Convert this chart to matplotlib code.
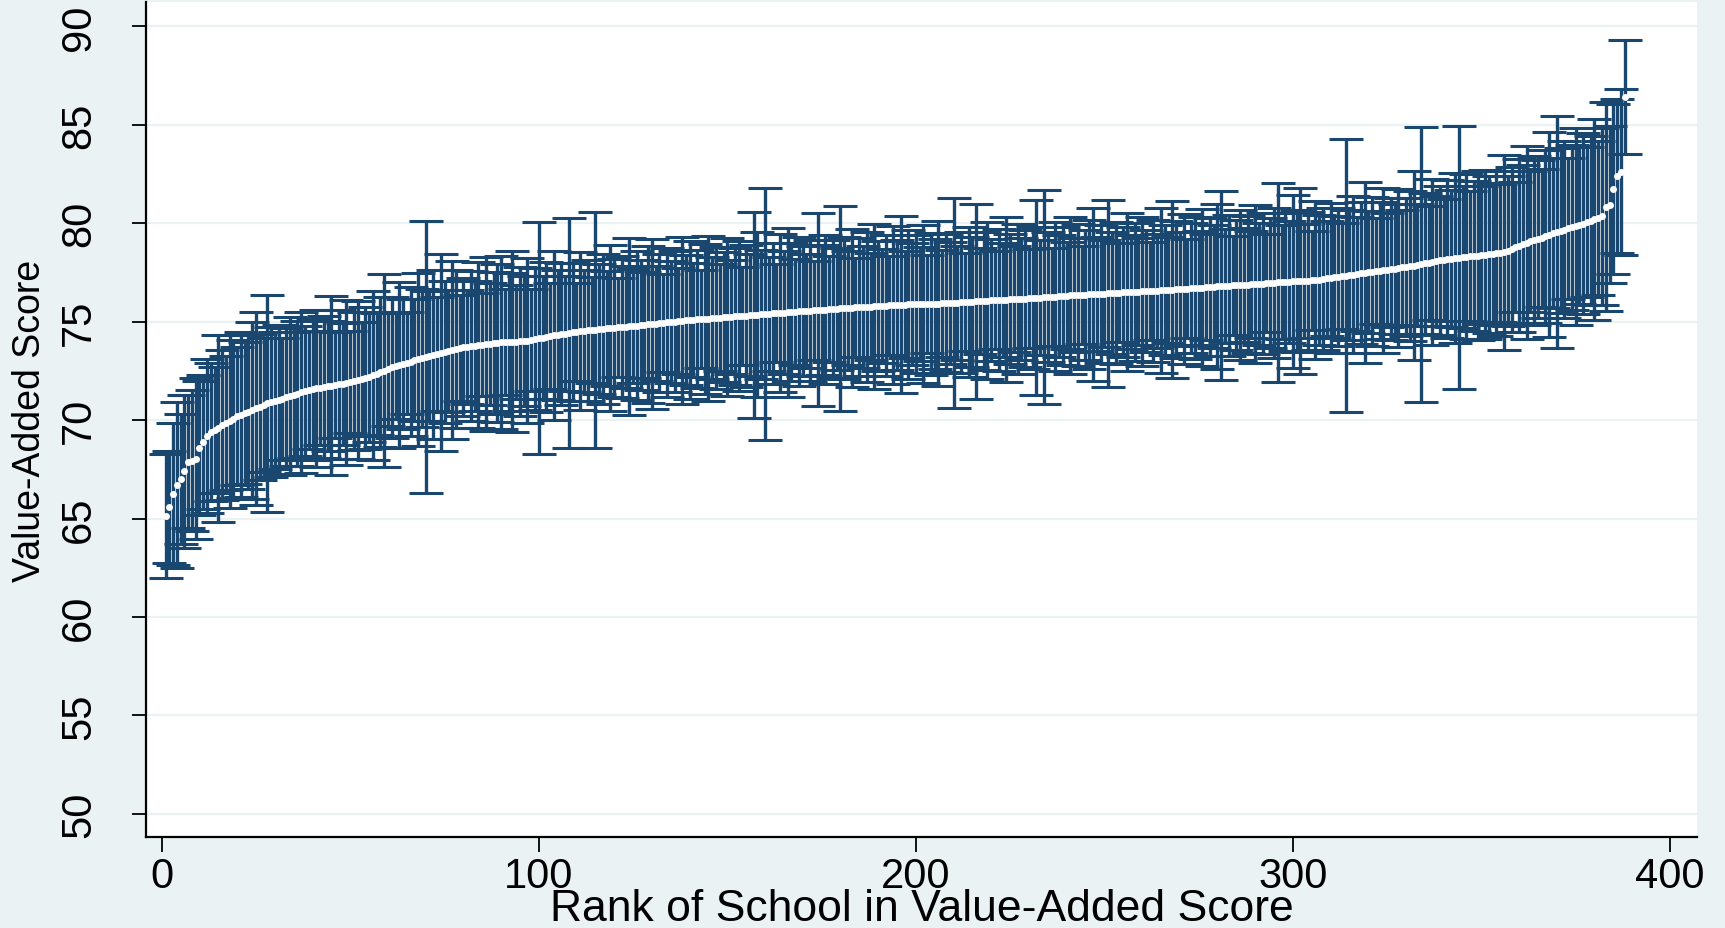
import numpy as np
import matplotlib
matplotlib.use("Agg")
import matplotlib.pyplot as plt

# ------------------------------------------------------------
# Dados: escolas ordenadas pelo valor agregado (estimativa + meia-largura do IC)

rank_max = 388

va_score = [
    65.15, 65.60, 66.25, 66.70, 67.00, 67.40, 67.90, 67.95, 68.05, 68.60,
    68.90, 69.20, 69.40, 69.50, 69.60, 69.75, 69.85, 69.95, 70.05, 70.20,
    70.28, 70.35, 70.42, 70.50, 70.60, 70.68, 70.76, 70.85, 70.92, 71.00,
    71.05, 71.10, 71.16, 71.22, 71.28, 71.35, 71.42, 71.50, 71.54, 71.58,
    71.62, 71.65, 71.68, 71.72, 71.75, 71.78, 71.82, 71.86, 71.90, 71.95,
    71.99, 72.04, 72.09, 72.15, 72.20, 72.28, 72.36, 72.44, 72.52, 72.60,
    72.68, 72.75, 72.80, 72.86, 72.92, 72.98, 73.04, 73.10, 73.15, 73.20,
    73.26, 73.32, 73.38, 73.43, 73.48, 73.53, 73.57, 73.61, 73.65, 73.70,
    73.73, 73.76, 73.79, 73.82, 73.84, 73.87, 73.89, 73.91, 73.93, 73.95,
    73.96, 73.97, 73.98, 73.99, 74.00, 74.02, 74.04, 74.08, 74.12, 74.16,
    74.20, 74.24, 74.28, 74.31, 74.34, 74.37, 74.40, 74.43, 74.46, 74.49,
    74.52, 74.54, 74.56, 74.58, 74.60, 74.62, 74.64, 74.66, 74.68, 74.70,
    74.71, 74.73, 74.75, 74.77, 74.79, 74.81, 74.83, 74.85, 74.87, 74.89,
    74.91, 74.93, 74.95, 74.97, 74.99, 75.01, 75.03, 75.05, 75.07, 75.09,
    75.10, 75.12, 75.13, 75.15, 75.16, 75.18, 75.19, 75.21, 75.22, 75.24,
    75.25, 75.27, 75.28, 75.30, 75.31, 75.33, 75.34, 75.36, 75.37, 75.39,
    75.40, 75.42, 75.44, 75.45, 75.47, 75.48, 75.50, 75.51, 75.53, 75.54,
    75.55, 75.57, 75.58, 75.60, 75.61, 75.62, 75.64, 75.65, 75.66, 75.68,
    75.69, 75.70, 75.71, 75.73, 75.74, 75.75, 75.76, 75.77, 75.78, 75.80,
    75.81, 75.82, 75.83, 75.84, 75.85, 75.86, 75.87, 75.88, 75.88, 75.89,
    75.89, 75.90, 75.90, 75.91, 75.91, 75.92, 75.93, 75.94, 75.95, 75.96,
    75.97, 75.98, 75.99, 76.01, 76.02, 76.03, 76.04, 76.06, 76.07, 76.09,
    76.10, 76.11, 76.12, 76.13, 76.14, 76.15, 76.16, 76.17, 76.18, 76.19,
    76.21, 76.22, 76.23, 76.25, 76.26, 76.27, 76.28, 76.30, 76.31, 76.33,
    76.34, 76.35, 76.36, 76.37, 76.38, 76.39, 76.40, 76.41, 76.42, 76.43,
    76.45, 76.46, 76.47, 76.48, 76.49, 76.50, 76.51, 76.52, 76.53, 76.54,
    76.55, 76.56, 76.57, 76.58, 76.59, 76.60, 76.62, 76.63, 76.64, 76.66,
    76.67, 76.68, 76.70, 76.71, 76.73, 76.74, 76.76, 76.77, 76.79, 76.80,
    76.82, 76.83, 76.84, 76.85, 76.86, 76.87, 76.88, 76.89, 76.90, 76.92,
    76.93, 76.94, 76.96, 76.97, 76.98, 77.00, 77.01, 77.03, 77.04, 77.05,
    77.06, 77.07, 77.08, 77.09, 77.10, 77.12, 77.14, 77.17, 77.20, 77.23,
    77.26, 77.28, 77.31, 77.34, 77.37, 77.40, 77.43, 77.46, 77.49, 77.52,
    77.55, 77.57, 77.60, 77.62, 77.65, 77.68, 77.70, 77.73, 77.76, 77.79,
    77.82, 77.85, 77.88, 77.92, 77.96, 78.00, 78.04, 78.08, 78.12, 78.16,
    78.19, 78.21, 78.24, 78.26, 78.28, 78.30, 78.32, 78.34, 78.36, 78.38,
    78.40, 78.42, 78.44, 78.47, 78.50, 78.53, 78.60, 78.68, 78.78, 78.87,
    78.95, 79.02, 79.08, 79.14, 79.20, 79.27, 79.35, 79.43, 79.50, 79.56,
    79.62, 79.68, 79.74, 79.80, 79.86, 79.92, 79.99, 80.06, 80.13, 80.20,
    80.28, 80.36, 80.85, 80.95, 81.75, 82.40, 82.60, 86.40,
]

ci_half = [
    3.15, 2.85, 3.60, 4.20, 3.30, 3.90, 3.40, 3.60, 4.10, 3.40,
    3.40, 3.90, 3.50, 3.20, 4.75, 3.80, 3.40, 4.40, 4.00, 3.50,
    4.20, 3.60, 3.90, 4.50, 4.90, 3.70, 3.40, 5.50, 3.80, 3.50,
    3.80, 3.10, 3.50, 4.00, 3.20, 3.70, 4.10, 3.30, 3.00, 3.60,
    4.00, 2.90, 3.60, 3.30, 4.55, 2.70, 3.80, 3.10, 4.20, 2.60,
    3.50, 4.00, 2.90, 3.60, 3.30, 4.30, 3.10, 3.80, 4.90, 2.90,
    3.60, 2.70, 4.20, 3.30, 2.60, 3.80, 3.10, 4.40, 3.50, 6.90,
    3.30, 4.30, 2.90, 5.00, 3.60, 3.10, 4.50, 4.00, 2.70, 3.50,
    2.90, 3.80, 3.30, 4.20, 2.60, 4.40, 3.10, 3.60, 4.00, 4.40,
    2.70, 3.50, 4.60, 2.90, 3.80, 3.30, 4.20, 2.60, 3.60, 5.90,
    3.10, 3.80, 2.70, 4.30, 3.30, 3.60, 2.90, 5.85, 3.50, 2.50,
    4.00, 3.10, 3.60, 2.70, 6.00, 3.30, 3.80, 2.90, 4.20, 3.50,
    2.50, 3.60, 3.10, 4.50, 2.90, 3.80, 3.30, 2.70, 4.00, 4.30,
    2.90, 3.50, 2.50, 3.80, 3.10, 3.60, 2.70, 4.25, 3.30, 4.00,
    2.90, 3.50, 2.50, 3.80, 4.20, 3.10, 3.60, 2.70, 3.30, 4.00,
    2.90, 3.50, 3.80, 2.50, 3.60, 3.10, 5.25, 4.20, 3.30, 6.40,
    2.90, 3.60, 2.50, 4.00, 3.10, 4.30, 3.50, 2.70, 3.80, 3.30,
    2.90, 3.60, 2.50, 4.90, 3.30, 3.80, 2.70, 3.50, 3.10, 5.20,
    3.60, 2.90, 4.00, 2.50, 3.50, 3.10, 3.80, 2.70, 4.20, 3.30,
    2.90, 3.60, 2.50, 4.00, 3.30, 4.50, 2.70, 3.80, 3.10, 3.50,
    2.90, 4.00, 2.50, 3.60, 3.30, 4.20, 2.70, 3.50, 3.10, 5.35,
    2.90, 3.60, 2.50, 3.80, 3.30, 4.95, 2.70, 3.50, 4.00, 3.10,
    2.50, 3.60, 2.90, 4.20, 3.30, 2.70, 3.80, 3.10, 3.50, 2.50,
    3.60, 4.95, 2.90, 5.45, 3.30, 2.50, 3.80, 3.10, 3.50, 2.70,
    4.00, 2.90, 3.60, 2.50, 3.30, 3.80, 4.40, 2.90, 3.50, 2.70,
    4.75, 3.10, 3.60, 2.50, 3.30, 4.00, 2.90, 3.50, 2.70, 3.80,
    3.10, 2.50, 3.60, 2.90, 4.20, 3.30, 2.70, 4.50, 3.50, 2.90,
    3.80, 2.50, 3.30, 3.60, 2.90, 4.00, 2.70, 3.50, 3.10, 4.20,
    4.80, 2.90, 3.60, 2.50, 3.30, 3.80, 2.90, 3.50, 2.70, 4.00,
    3.10, 3.60, 2.50, 3.30, 3.80, 5.05, 2.90, 3.50, 3.10, 4.40,
    3.60, 4.70, 2.90, 3.50, 2.50, 4.00, 3.30, 3.60, 2.90, 3.80,
    3.10, 3.50, 2.70, 6.93, 3.30, 4.00, 2.90, 3.60, 4.60, 3.10,
    3.80, 2.70, 3.50, 4.20, 2.90, 3.60, 3.30, 4.00, 2.90, 3.50,
    3.80, 4.80, 3.10, 6.98, 3.60, 2.90, 4.20, 3.30, 3.80, 3.10,
    4.00, 3.50, 4.30, 6.70, 3.60, 4.20, 3.30, 3.80, 4.30, 3.50,
    4.30, 4.00, 3.60, 4.20, 3.50, 4.95, 3.80, 4.20, 3.30, 4.40,
    4.00, 4.90, 3.60, 4.30, 4.00, 3.50, 4.40, 5.20, 3.80, 5.90,
    4.20, 4.50, 3.60, 4.20, 5.00, 4.00, 4.60, 3.80, 4.30, 5.10,
    3.90, 4.50, 5.30, 4.00, 4.30, 3.90, 4.20, 2.90,
]

x_ticks = [0, 100, 200, 300, 400]
y_ticks = [50, 55, 60, 65, 70, 75, 80, 85, 90]

ranks = np.arange(1, rank_max + 1)

# ------------------------------------------------------------
# Estilo (parecido com o esquema s2color do Stata)

COR_FUNDO = "#eaf2f3"
COR_BARRA = "#1a476f"

plt.rcParams["font.family"] = ["Liberation Sans", "DejaVu Sans"]

fig = plt.figure(figsize=(17.25, 9.29), dpi=100, facecolor=COR_FUNDO)
ax = fig.add_axes([0.0848, 0.098, 0.8990, 0.8985])
ax.set_facecolor("white")

# Grade horizontal
for y in y_ticks:
    ax.axhline(y, color=COR_FUNDO, linewidth=1.6, zorder=0)

# Intervalos de confiança
ax.errorbar(ranks, va_score, yerr=ci_half, fmt="none",
            ecolor=COR_BARRA, elinewidth=2.4, capsize=12,
            capthick=2.2, zorder=2)

# Estimativas pontuais (pontos brancos)
ax.plot(ranks, va_score, "o", color="white", markersize=5,
        markeredgewidth=0, zorder=3)

ax.set_xlim(-4.1, 407.2)
ax.set_ylim(48.83, 91.23)

ax.set_xticks(x_ticks)
ax.set_yticks(y_ticks)
ax.set_yticklabels([str(v) for v in y_ticks], rotation=90, va="center")

ax.tick_params(axis="y", length=10, width=1.3, pad=24, labelsize=30, color="black")
ax.tick_params(axis="x", length=11, width=1.3, pad=3, labelsize=30, color="black")

for lado in ["top", "right"]:
    ax.spines[lado].set_visible(False)
for lado in ["left", "bottom"]:
    ax.spines[lado].set_linewidth(1.6)

ax.set_xlabel("Rank of School in Value-Added Score", fontsize=32, labelpad=-6)
ax.set_ylabel("Value-Added Score", fontsize=27, labelpad=8)

fig.savefig("out.png", dpi=100, facecolor=COR_FUNDO)
